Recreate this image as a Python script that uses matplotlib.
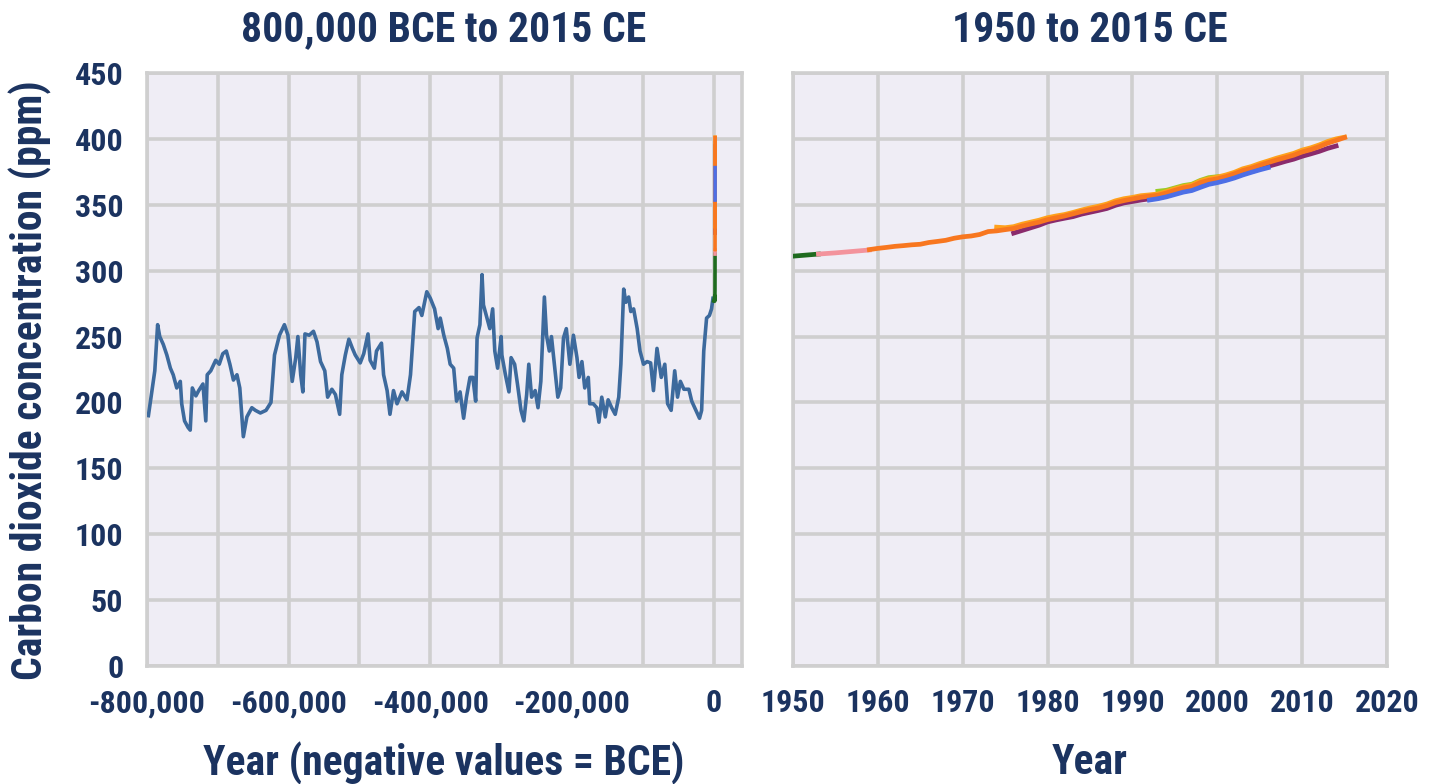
import numpy as np
import matplotlib
matplotlib.use('Agg')
import matplotlib.pyplot as plt
from matplotlib.ticker import FuncFormatter

plt.rcParams['font.family'] = ['Roboto Condensed', 'Liberation Sans Narrow',
                               'DejaVu Sans Condensed', 'Roboto', 'DejaVu Sans']
plt.rcParams['font.weight'] = 'bold'

# ice core record (years, negative = BCE)
ice_year = [-798000, -793000, -789000, -785000, -782000, -777000, -772000, -767000,
            -763000, -758000, -753000, -751000, -747000, -742000, -739000, -736000,
            -731000, -727000, -721000, -717000, -715000, -710000, -703000, -698000,
            -693000, -688000, -683000, -678000, -673000, -669000, -666000, -664000,
            -659000, -652000, -647000, -640000, -632000, -625000, -620000, -613000,
            -606000, -601000, -595000, -590000, -587000, -583000, -580000, -577000,
            -571000, -565000, -560000, -555000, -549000, -545000, -539000, -534000,
            -528000, -525000, -520000, -515000, -510000, -506000, -499000, -494000,
            -488000, -485000, -479000, -476000, -469000, -466000, -461000, -457000,
            -452000, -447000, -440000, -433000, -428000, -422000, -416000, -412000,
            -405000, -400000, -394000, -389000, -386000, -381000, -376000, -372000,
            -367000, -363000, -358000, -353000, -349000, -344000, -340000, -336000,
            -334000, -330000, -327000, -325000, -321000, -316000, -312000, -309000,
            -305000, -300000, -299000, -294000, -289000, -286000, -281000, -277000,
            -272000, -268000, -264000, -261000, -257000, -252000, -248000, -244000,
            -239000, -236000, -232000, -229000, -224000, -220000, -216000, -212000,
            -208000, -203000, -198000, -193000, -190000, -186000, -182000, -177000,
            -175000, -170000, -165000, -162000, -158000, -153000, -149000, -144000,
            -139000, -134000, -131000, -127000, -124000, -120000, -117000, -113000,
            -108000, -104000, -99000, -94000, -89000, -85000, -80000, -74000,
            -69000, -65000, -60000, -55000, -51000, -47000, -42000, -35000,
            -31000, -25000, -20000, -17000, -14000, -10000, -6000, -3000, -1000]
ice_ppm = [190, 209, 224, 259, 250, 244, 236, 226,
           221, 211, 216, 199, 186, 181, 179, 211,
           205, 209, 214, 186, 221, 224, 232, 229,
           237, 239, 229, 217, 221, 211, 189, 174,
           189, 196, 194, 192, 194, 200, 236, 251,
           259, 251, 216, 234, 250, 221, 208, 252,
           251, 254, 246, 231, 224, 204, 210, 206,
           191, 221, 236, 248, 241, 236, 230, 237,
           252, 232, 226, 239, 245, 221, 209, 191,
           209, 199, 208, 202, 221, 269, 272, 266,
           284, 279, 271, 256, 264, 251, 241, 229,
           226, 201, 208, 188, 204, 219, 219, 201,
           249, 259, 297, 274, 266, 256, 271, 239,
           226, 250, 236, 221, 208, 234, 229, 214,
           194, 186, 206, 229, 204, 209, 196, 216,
           280, 251, 239, 250, 224, 204, 211, 249,
           256, 229, 251, 234, 219, 231, 211, 219,
           199, 199, 196, 185, 204, 189, 202, 196,
           191, 204, 229, 286, 276, 280, 269, 271,
           256, 239, 229, 231, 230, 209, 241, 219,
           229, 199, 194, 224, 204, 216, 210, 210,
           201, 194, 188, 194, 239, 264, 266, 271, 279]

# recent records
lawdome_year = [0, 500, 1000, 1500, 1750, 1800, 1850, 1900, 1925, 1950, 1953]
lawdome_ppm = [277, 278, 279, 281, 277, 283, 285, 296, 305, 311, 312.6]

siple_year = [1953, 1955, 1957, 1959]
siple_ppm = [312.6, 313.5, 314.6, 315.7]

mlo_year = list(range(1959, 2016))
mlo_ppm = [315.97, 316.91, 317.64, 318.45, 318.99, 319.62, 320.04, 321.37, 322.18, 323.05,
           324.62, 325.68, 326.32, 327.46, 329.68, 330.19, 331.13, 332.03, 333.84, 335.41,
           336.84, 338.76, 340.12, 341.48, 343.15, 344.85, 346.35, 347.61, 349.31, 351.69,
           353.20, 354.45, 355.70, 356.54, 357.21, 358.96, 360.97, 362.74, 363.88, 366.84,
           368.54, 369.71, 371.32, 373.45, 375.98, 377.70, 379.98, 382.09, 384.02, 385.83,
           387.64, 390.10, 391.85, 394.06, 396.74, 398.81, 401.01]

barrow_year = list(range(1974, 2016))
barrow_ppm = [333.0, 332.6, 333.4, 335.3, 336.8, 338.3, 340.2, 341.5, 342.6, 344.2,
              346.0, 347.6, 348.9, 350.6, 353.0, 354.6, 355.6, 356.9, 357.5, 358.2,
              360.0, 362.1, 363.8, 365.0, 368.0, 369.8, 371.0, 372.6, 374.6, 377.3,
              379.0, 381.3, 383.3, 385.4, 387.2, 389.0, 391.5, 393.2, 395.4, 398.0,
              400.0, 401.3]

samoa_year = list(range(1976, 2015))
samoa_ppm = [328.5, 330.5, 332.5, 334.5, 337.0, 338.5, 339.8, 341.0, 342.9, 344.3,
             345.7, 347.2, 349.6, 351.4, 352.5, 353.6, 354.5, 355.1, 356.6, 358.5,
             360.5, 361.7, 364.0, 366.5, 367.5, 369.0, 371.0, 373.3, 375.2, 377.2,
             379.2, 381.0, 382.9, 384.6, 386.8, 388.6, 390.5, 392.8, 394.6]

spo_year = list(range(1992, 2007))
spo_ppm = [353.6, 354.6, 356.0, 357.8, 359.6, 360.8, 363.2, 365.5, 366.8, 368.4,
           370.3, 372.6, 374.6, 376.5, 378.2]

lampedusa_year = list(range(1993, 2001))
lampedusa_ppm = [360.3, 361.0, 362.8, 364.6, 365.6, 368.5, 370.6, 371.3]

shetland_year = list(range(1993, 2003))
shetland_ppm = [357.5, 358.5, 360.4, 362.2, 363.3, 366.2, 368.0, 369.2, 370.8, 372.8]

navy = '#1b3360'
bg = '#efedf5'
gridc = '#cfcfcf'

recent = [
    (lawdome_year, lawdome_ppm, '#1f6b1f'),
    (siple_year, siple_ppm, '#f3939c'),
    (samoa_year, samoa_ppm, '#8a2b6c'),
    (lampedusa_year, lampedusa_ppm, '#9acb25'),
    (shetland_year, shetland_ppm, '#e02a8c'),
    (barrow_year, barrow_ppm, '#ffa11c'),
    (mlo_year, mlo_ppm, '#f8771f'),
    (spo_year, spo_ppm, '#4d6fe6'),
]

fig = plt.figure(figsize=(14.4, 7.84), dpi=100)
ax1 = fig.add_axes([147/1440, 1-666/784, (742-147)/1440, (666-73)/784])
ax2 = fig.add_axes([793/1440, 1-666/784, (1387-793)/1440, (666-73)/784])

ax1.plot(ice_year, ice_ppm, color='#3d6a9d', lw=2.6, zorder=3)
for yrs, vals, c in recent:
    ax1.plot(yrs, vals, color=c, lw=2.6, zorder=4)
    ax2.plot(yrs, vals, color=c, lw=3.4, zorder=4)

ax1.set_xlim(-800000, 40000)
ax1.set_xticks(np.arange(-800000, 1, 100000))
ax1.xaxis.set_major_formatter(FuncFormatter(
    lambda v, p: '{:,.0f}'.format(v) if v % 200000 == 0 else ''))
ax2.set_xlim(1950, 2020)
ax2.set_xticks(np.arange(1950, 2021, 10))

for ax in (ax1, ax2):
    ax.set_ylim(0, 450)
    ax.set_yticks(np.arange(0, 451, 50))
    ax.set_facecolor(bg)
    ax.grid(True, color=gridc, lw=2.6, zorder=1)
    ax.set_axisbelow(True)
    for s in ax.spines.values():
        s.set_color(gridc)
        s.set_linewidth(2.6)
    ax.tick_params(length=0, labelsize=23, colors=navy, pad=16)
    for lab in ax.get_xticklabels() + ax.get_yticklabels():
        lab.set_fontweight('bold')

ax2.tick_params(labelleft=False)
ax1.tick_params(axis='y', pad=17)

def ftext(x, y, s, **kw):
    fig.text(x/1440, 1-y/784, s, ha='center', va='center', fontsize=30,
             fontweight='bold', color=navy, **kw)

ftext(444, 30, '800,000 BCE to 2015 CE')
ftext(1090, 30, '1950 to 2015 CE')
ftext(444, 763, 'Year (negative values = BCE)')
ftext(1090, 763, 'Year')
ftext(30, 380, 'Carbon dioxide concentration (ppm)', rotation=90)

fig.savefig('out.png', dpi=100, facecolor='white')
